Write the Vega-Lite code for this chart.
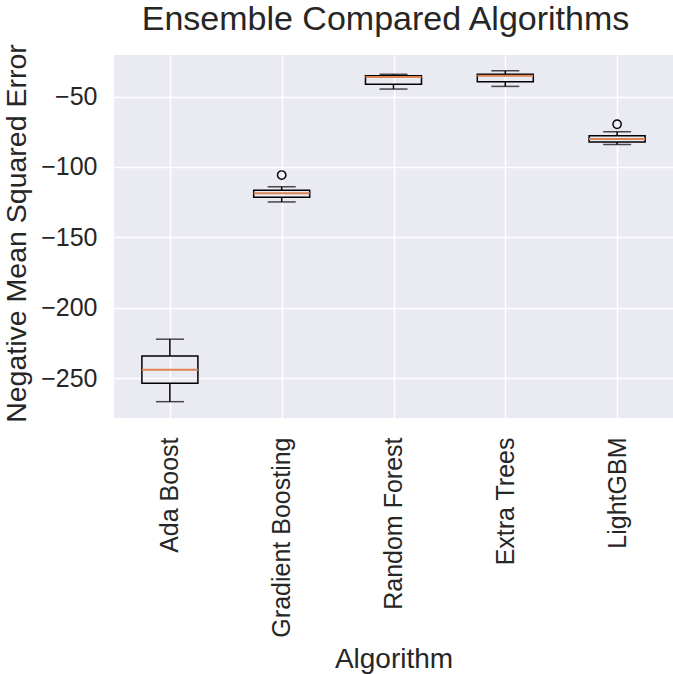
{
  "$schema": "https://vega.github.io/schema/vega-lite/v6.json",
  "autosize": "none",
  "width": 559,
  "height": 363,
  "padding": {"left": 114, "top": 55, "right": 0, "bottom": 256},
  "background": "white",
  "title": {"text": "Ensemble Compared Algorithms", "fontSize": 34, "font": "Liberation Sans", "fontWeight": "normal", "color": "#262626", "baseline": "alphabetic", "offset": -20, "anchor": "middle", "dx": -8},
  "datasets": {
    "stats": [
      {"algorithm": "Ada Boost", "lo": -266.8, "q1": -253.7, "med": -244.2, "q3": -234.3, "hi": -222.4},
      {"algorithm": "Gradient Boosting", "lo": -124.9, "q1": -121.6, "med": -118.8, "q3": -116.6, "hi": -114.1},
      {"algorithm": "Random Forest", "lo": -44.7, "q1": -41.3, "med": -36.2, "q3": -35.2, "hi": -34.2},
      {"algorithm": "Extra Trees", "lo": -42.8, "q1": -39.5, "med": -35.2, "q3": -34.2, "hi": -31.7},
      {"algorithm": "LightGBM", "lo": -84.0, "q1": -82.3, "med": -80.2, "q3": -77.8, "hi": -75.0}
    ],
    "outliers": [
      {"algorithm": "Gradient Boosting", "value": -105.8},
      {"algorithm": "LightGBM", "value": -69.7}
    ]
  },
  "data": {"name": "stats"},
  "encoding": {
    "x": {
      "field": "algorithm", "type": "nominal",
      "sort": ["Ada Boost", "Gradient Boosting", "Random Forest", "Extra Trees", "LightGBM"],
      "scale": {"type": "point", "padding": 0.5},
      "axis": {"title": "Algorithm", "labelAngle": -90, "labelAlign": "right", "labelBaseline": "middle", "labelPadding": 19, "tickSize": 0, "domain": false, "grid": true, "gridColor": "white", "gridWidth": 1.5, "labelFontSize": 25, "titleFontSize": 28, "titleFontWeight": "normal", "titleY": 249, "titleBaseline": "alphabetic", "labelColor": "#262626", "titleColor": "#262626", "labelFont": "Liberation Sans", "titleFont": "Liberation Sans", "labelLimit": 300}
    }
  },
  "layer": [
    {
      "mark": {"type": "rule", "color": "black", "strokeWidth": 1.5},
      "encoding": {
        "y": {"field": "lo", "type": "quantitative", "scale": {"domain": [-278.4, -20.5], "nice": false, "zero": false},
          "axis": {"title": "Negative Mean Squared Error", "values": [-250, -200, -150, -100, -50], "tickSize": 0, "labelPadding": 17, "domain": false, "grid": true, "gridColor": "white", "gridWidth": 1.5, "labelFontSize": 25, "titleFontSize": 28.5, "titleFontWeight": "normal", "titleX": -89, "titleY": 178, "titleBaseline": "alphabetic", "titleAngle": -90, "titleAnchor": "middle", "labelColor": "#262626", "titleColor": "#262626", "labelFont": "Liberation Sans", "titleFont": "Liberation Sans", "titleLimit": 500}},
        "y2": {"field": "q1"}
      }
    },
    {
      "mark": {"type": "rule", "color": "black", "strokeWidth": 1.5},
      "encoding": {"y": {"field": "q3", "type": "quantitative"}, "y2": {"field": "hi"}}
    },
    {
      "mark": {"type": "tick", "color": "black", "size": 28, "thickness": 1.5},
      "encoding": {"y": {"field": "lo", "type": "quantitative"}}
    },
    {
      "mark": {"type": "tick", "color": "black", "size": 28, "thickness": 1.5},
      "encoding": {"y": {"field": "hi", "type": "quantitative"}}
    },
    {
      "mark": {"type": "bar", "size": 56, "fill": "white", "fillOpacity": 0, "stroke": "black", "strokeWidth": 1.5},
      "encoding": {"y": {"field": "q1", "type": "quantitative"}, "y2": {"field": "q3"}}
    },
    {
      "mark": {"type": "tick", "color": "#DD8452", "size": 56, "thickness": 2, "opacity": 1},
      "encoding": {"y": {"field": "med", "type": "quantitative"}}
    },
    {
      "data": {"name": "outliers"},
      "mark": {"type": "point", "shape": "circle", "filled": false, "color": "black", "size": 70, "strokeWidth": 1.4, "opacity": 1},
      "encoding": {"y": {"field": "value", "type": "quantitative"}}
    }
  ],
  "config": {
    "view": {"fill": "#EAEAF2", "stroke": null}
  }
}
